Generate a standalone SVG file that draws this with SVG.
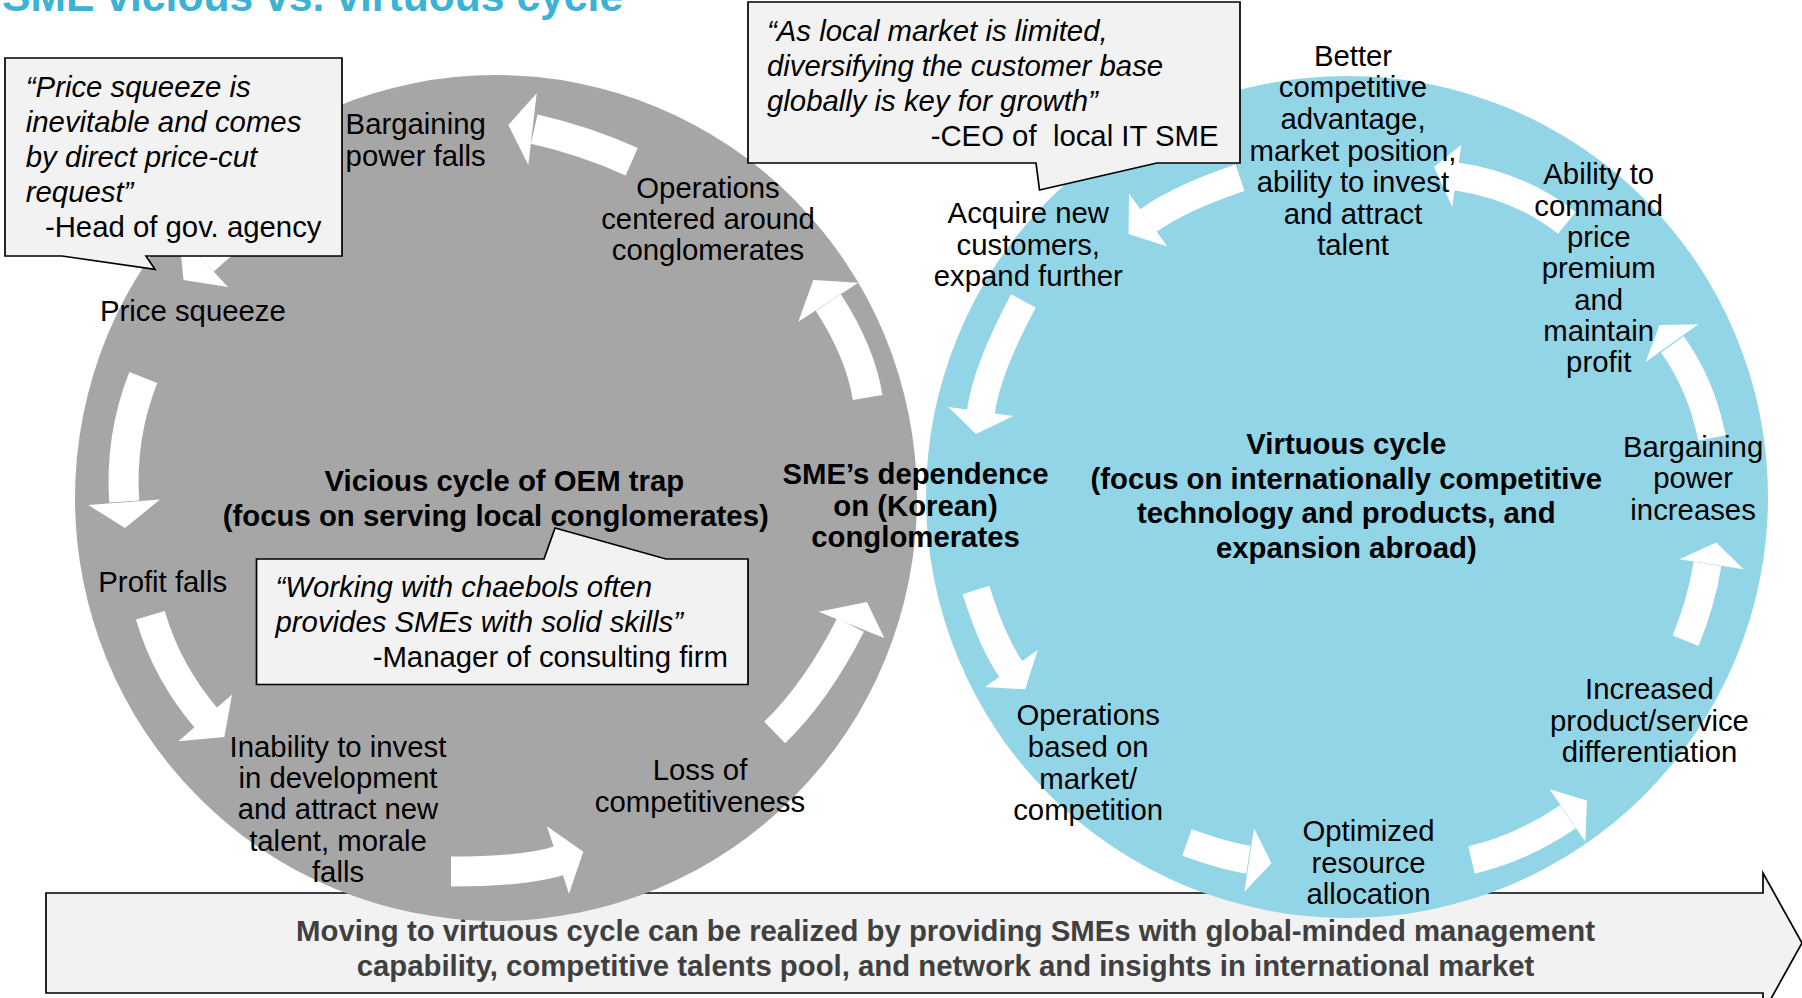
<svg xmlns="http://www.w3.org/2000/svg" width="1802" height="998" viewBox="0 0 1802 998">
<defs>
<style>
.t{font-family:"Liberation Sans",Arial,Helvetica,sans-serif;font-size:29.33px;fill:#000;text-anchor:middle}
.b{font-weight:bold}
.q{font-style:italic;text-anchor:start}
.au{text-anchor:end}
.title{font-family:"Liberation Sans",Arial,Helvetica,sans-serif;font-size:42.67px;font-weight:bold;fill:#3AB3D4}
.foot{font-weight:bold;fill:#404040}
.box{fill:#F2F2F2;stroke:#000;stroke-width:1.7;stroke-linejoin:miter}
.gs{fill:none;stroke:#fff;stroke-width:30}
.bs{fill:none;stroke:#fff;stroke-width:28}
.hd{fill:#fff}
</style>
</defs>
<rect width="1802" height="998" fill="#fff"/>

<g id="banner">
<path class="box" d="M46,893 H1763 V873 L1802,943 L1763,1013 V993 H46 Z"/>
<text class="t foot"><tspan x="945.5" y="940.5">Moving to virtuous cycle can be realized by providing SMEs with global-minded management</tspan><tspan x="945.5" y="976">capability, competitive talents pool, and network and insights in international market</tspan></text>
</g>

<g id="vicious-circle"><ellipse cx="496" cy="498" rx="421" ry="423" fill="#A6A6A6"/></g>
<g id="virtuous-circle"><circle cx="1347" cy="497" r="421" fill="#92D5E6"/></g>

<g id="connectors">
<g id="g1"><path class="gs" d="M631.7,161.7 Q584.6,140.6 534.2,129.2"/><polygon class="hd" points="536.7,93.3 508.3,125 528.3,165"/></g>
<g id="g2"><path class="gs" d="M300,190 Q245,222 203.5,260.7"/><polygon class="hd" points="179,234.4 183.5,280 228,287"/></g>
<g id="g3"><path class="gs" d="M143.3,377.4 Q119.8,437 124.2,501.4"/><polygon class="hd" points="88.3,505 125,528 160,499.6"/></g>
<g id="g4"><path class="gs" d="M150.3,615.3 Q167.4,673.3 207,719"/><polygon class="hd" points="178.4,741.2 224.4,737 232,694.6"/></g>
<g id="g5"><path class="gs" d="M451,871.5 Q525.7,871.5 559.5,860.5"/><polygon class="hd" points="547,826.3 583.3,851.7 569,893.7"/></g>
<g id="g6"><path class="gs" d="M774.7,732.5 Q816.9,691.5 850.5,625"/><polygon class="hd" points="818.6,611.7 867,602 884.3,638"/></g>
<g id="g7"><path class="gs" d="M867.7,397.5 Q860.1,351.4 828.3,302.5"/><polygon class="hd" points="798.3,321.7 813.3,280 858.3,282.7"/></g>
<g id="b1"><path class="bs" d="M976,590 Q992.5,642.9 1011.5,670"/><polygon class="hd" points="985,687 1025.2,689.3 1037.7,650"/></g>
<g id="b2"><path class="bs" d="M1187,842.5 Q1224.9,856.1 1248.4,859.7"/><polygon class="hd" points="1254,828.3 1271.5,863.3 1244.4,891.7"/></g>
<g id="b3"><path class="bs" d="M1471.5,860 Q1521.5,848.4 1567.9,816.7"/><polygon class="hd" points="1549.7,789.3 1587,800.5 1585.3,841.7"/></g>
<g id="b4"><path class="bs" d="M1685.6,640.8 Q1701.7,600.9 1707.5,564"/><polygon class="hd" points="1679.5,559.3 1716.2,542.4 1743.7,569.3"/></g>
<g id="b5"><path class="bs" d="M1712,438 Q1701.3,384.6 1672.4,344.3"/><polygon class="hd" points="1645.6,362 1659.6,325 1698.4,324.2"/></g>
<g id="b6"><path class="bs" d="M1566.8,222.9 Q1520.9,186.1 1455.9,176.4"/><polygon class="hd" points="1461.5,144.6 1434,167 1452.2,206.8"/></g>
<g id="b7"><path class="bs" d="M1240,177.7 Q1179.5,198 1148.4,220.5"/><polygon class="hd" points="1129,193.5 1128.5,234 1167.3,246.5"/></g>
<g id="b8"><path class="bs" d="M1023.4,300.9 Q986.8,369.3 980.9,411.6"/><polygon class="hd" points="948.3,407.1 976,434 1013.3,416.1"/></g>
</g>

<g id="callout-gov">
<path class="box" d="M5,58 H342 V256 H146 L155,269.3 L62,256 H5 Z"/>
<text class="t q"><tspan x="25.8" y="96.7">“Price squeeze is</tspan><tspan x="25.8" y="131.8">inevitable and comes</tspan><tspan x="25.8" y="166.9">by direct price-cut</tspan><tspan x="25.8" y="202">request”</tspan></text>
<text class="t au" x="321.5" y="237.1">-Head of gov. agency</text>
</g>

<g id="callout-ceo">
<path class="box" d="M748,2 H1240 V163 H1157 L1039.5,190 L1036,163 H748 Z"/>
<text class="t q"><tspan x="767" y="40.5">“As local market is limited,</tspan><tspan x="767" y="75.7">diversifying the customer base</tspan><tspan x="767" y="110.9">globally is key for growth”</tspan></text>
<text class="t au" x="1218.6" y="146.1" xml:space="preserve">-CEO of  local IT SME</text>
</g>

<g id="callout-manager">
<path class="box" d="M256.5,559 H544 L555,528 L666,559 H748 V684.5 H256.5 Z"/>
<text class="t q"><tspan x="275.5" y="597">“Working with chaebols often</tspan><tspan x="275.5" y="632">provides SMEs with solid skills”</tspan></text>
<text class="t au" x="728" y="667">-Manager of consulting firm</text>
</g>

<g id="node-bargaining-falls"><text class="t"><tspan x="415.7" y="133.5">Bargaining</tspan><tspan x="415.7" y="166">power falls</tspan></text></g>
<g id="node-ops-centered"><text class="t"><tspan x="708" y="197.5">Operations</tspan><tspan x="708" y="228.5">centered around</tspan><tspan x="708" y="259.5">conglomerates</tspan></text></g>
<g id="node-price-squeeze"><text class="t" x="192.9" y="320.5">Price squeeze</text></g>
<g id="node-profit-falls"><text class="t" x="162.7" y="591.5">Profit falls</text></g>
<g id="node-inability"><text class="t"><tspan x="338" y="756.7">Inability to invest</tspan><tspan x="338" y="788">in development</tspan><tspan x="338" y="819.3">and attract new</tspan><tspan x="338" y="850.6">talent, morale</tspan><tspan x="338" y="881.9">falls</tspan></text></g>
<g id="node-loss"><text class="t"><tspan x="700" y="780">Loss of</tspan><tspan x="700" y="811.5">competitiveness</tspan></text></g>
<g id="node-dependence"><text class="t b"><tspan x="915.5" y="484">SME’s dependence</tspan><tspan x="915.5" y="516">on (Korean)</tspan><tspan x="915.5" y="547">conglomerates</tspan></text></g>
<g id="node-vicious"><text class="t b"><tspan x="504.3" y="490.7">Vicious cycle of OEM trap</tspan><tspan x="495.8" y="526">(focus on serving local conglomerates)</tspan></text></g>
<g id="node-virtuous"><text class="t b"><tspan x="1346.3" y="453.8">Virtuous cycle</tspan><tspan x="1346.3" y="488.6">(focus on internationally competitive</tspan><tspan x="1346.3" y="523.4">technology and products, and</tspan><tspan x="1346.3" y="558.2">expansion abroad)</tspan></text></g>
<g id="node-better"><text class="t"><tspan x="1353" y="65.7">Better</tspan><tspan x="1353" y="97.3">competitive</tspan><tspan x="1353" y="128.9">advantage,</tspan><tspan x="1353" y="160.5">market position,</tspan><tspan x="1353" y="192.1">ability to invest</tspan><tspan x="1353" y="223.7">and attract</tspan><tspan x="1353" y="255.3">talent</tspan></text></g>
<g id="node-acquire"><text class="t"><tspan x="1028.3" y="223.2">Acquire new</tspan><tspan x="1028.3" y="254.5">customers,</tspan><tspan x="1028.3" y="285.8">expand further</tspan></text></g>
<g id="node-ability"><text class="t"><tspan x="1598.7" y="184.3">Ability to</tspan><tspan x="1598.7" y="215.6">command</tspan><tspan x="1598.7" y="246.9">price</tspan><tspan x="1598.7" y="278.2">premium</tspan><tspan x="1598.7" y="309.5">and</tspan><tspan x="1598.7" y="340.8">maintain</tspan><tspan x="1598.7" y="372.1">profit</tspan></text></g>
<g id="node-bargaining-inc"><text class="t"><tspan x="1693.1" y="456.5">Bargaining</tspan><tspan x="1693.1" y="488.3">power</tspan><tspan x="1693.1" y="520">increases</tspan></text></g>
<g id="node-differentiation"><text class="t"><tspan x="1649.5" y="699">Increased</tspan><tspan x="1649.5" y="730.5">product/service</tspan><tspan x="1649.5" y="762">differentiation</tspan></text></g>
<g id="node-ops-market"><text class="t"><tspan x="1088.2" y="725">Operations</tspan><tspan x="1088.2" y="757">based on</tspan><tspan x="1088.2" y="788.5">market/</tspan><tspan x="1088.2" y="820">competition</tspan></text></g>
<g id="node-optimized"><text class="t"><tspan x="1368.5" y="841">Optimized</tspan><tspan x="1368.5" y="873">resource</tspan><tspan x="1368.5" y="904.3">allocation</tspan></text></g>

<text id="title" class="title" x="2" y="10.5">SME vicious vs. virtuous cycle</text>
</svg>
